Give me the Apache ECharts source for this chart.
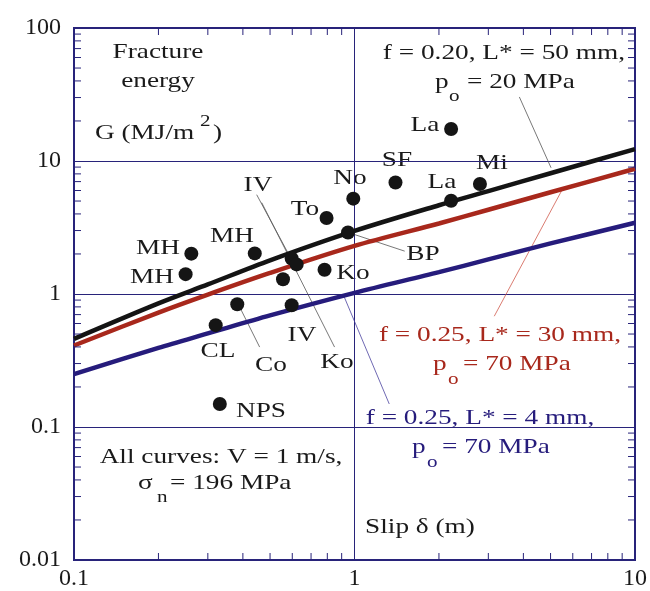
<!DOCTYPE html>
<html>
<head>
<meta charset="utf-8">
<script src="https://cdn.jsdelivr.net/npm/echarts@6/dist/echarts.min.js"></script>
<style>
  html, body { margin: 0; padding: 0; background: #fff; }
  #chart { width: 650px; height: 591px; }
</style>
</head>
<body>
<div id="chart"></div>
<script>
// slip (m) samples where the three model curves were read
const curveX = [0.1, 0.2, 0.3, 0.5, 1, 2, 3, 5, 10];
// G (MJ/m2) for each model curve
const curveBlack = [0.46, 0.85, 1.18, 1.79, 2.98, 4.65, 5.94, 8.09, 12.3];
const curveRed = [0.41, 0.725, 0.99, 1.44, 2.30, 3.39, 4.30, 5.82, 8.74];
const curveBlue = [0.25, 0.394, 0.505, 0.69, 1.02, 1.46, 1.82, 2.40, 3.43];

// earthquake estimates (slip, G)
const quakeSlip = [0.262, 0.250, 0.441, 0.597, 0.622, 0.556, 0.782, 0.795, 0.99, 0.948, 1.40, 2.21, 2.21, 2.80, 0.320, 0.382, 0.597, 0.331];
const quakeG = [2.01, 1.41, 2.02, 1.85, 1.67, 1.29, 1.52, 3.73, 5.21, 2.90, 6.90, 17.4, 5.03, 6.71, 0.583, 0.837, 0.823, 0.149];

// leader lines [x1, y1, x2, y2] in data units
const leaders = [
    [0.448, 5.58, 0.588, 1.92],
    [0.467, 4.86, 0.849, 0.399],
    [1.0, 2.80, 1.51, 2.10],
    [0.390, 0.795, 0.459, 0.399]
];
const curveLeaders = [
    [3.87, 30.3, 5.02, 8.89],
    [5.50, 6.08, 3.15, 0.681],
    [1.33, 0.149, 0.914, 0.978]
];

const yTickLabels = ['0.01', '0.1', '1', '10', '100'];
const xTickLabels = ['0.1', '1', '10'];

const navy = '#28237a';
const ink = '#1a1a1a';
const red = '#a8281c';
const blue = '#261c7c';
const serif = 'Liberation Serif';
const stretch = 1.24; // the source lettering is wide

let myChart = echarts.init(document.getElementById('chart'));

// minor ticks 2..9 inside each decade
let minorY = [], minorX = [];
[0.01, 0.1, 1, 10].forEach(d => {
    for (let k = 2; k <= 9; k++) {
        minorY.push([0.1, d * k]);
        if (d >= 0.1 && d < 10) minorX.push([d * k, 0.01]);
    }
});

function pairs(ys) {
    return curveX.map((x, i) => [x, ys[i]]);
}

function txt(x, y, s, opt) {
    opt = opt || {};
    return {
        type: 'text', x: x, y: y, silent: true, scaleX: stretch,
        style: {
            text: s, fill: opt.color || ink,
            font: (opt.size || 22) + 'px "' + serif + '"',
            textAlign: opt.align || 'center', textVerticalAlign: 'middle'
        }
    };
}

let graphics = [
    txt(158, 52, 'Fracture'),
    txt(158, 81, 'energy'),
    txt(95, 133, 'G (MJ/m', {align: 'left'}),
    txt(200, 122, '2', {align: 'left', size: 17}),
    txt(213, 133, ')', {align: 'left'}),
    txt(625, 53, 'f = 0.20, L* = 50 mm,', {align: 'right'}),
    txt(435, 82, 'p', {align: 'left'}),
    txt(449, 97, 'o', {align: 'left', size: 17}),
    txt(467, 82, '= 20 MPa', {align: 'left'}),
    txt(425, 125, 'La'),
    txt(397, 160, 'SF'),
    txt(492, 163, 'Mi'),
    txt(442, 182, 'La'),
    txt(350, 178, 'No'),
    txt(305, 209, 'To'),
    txt(258, 185, 'IV'),
    txt(158, 248, 'MH'),
    txt(152, 277, 'MH'),
    txt(232, 236, 'MH'),
    txt(353, 273, 'Ko'),
    txt(423, 254, 'BP'),
    txt(218, 351, 'CL'),
    txt(271, 365, 'Co'),
    txt(302, 335, 'IV'),
    txt(337, 362, 'Ko'),
    txt(261, 411, 'NPS'),
    txt(221, 457, 'All curves: V = 1 m/s,'),
    txt(138, 483, '\u03c3', {align: 'left'}),
    txt(157, 498, 'n', {align: 'left', size: 17}),
    txt(170, 483, '= 196 MPa', {align: 'left'}),
    txt(500, 335, 'f = 0.25, L* = 30 mm,', {color: red}),
    txt(433, 364, 'p', {align: 'left', color: red}),
    txt(448, 380, 'o', {align: 'left', size: 17, color: red}),
    txt(463, 364, '= 70 MPa', {align: 'left', color: red}),
    txt(480, 418, 'f = 0.25, L* = 4 mm,', {color: blue}),
    txt(412, 447, 'p', {align: 'left', color: blue}),
    txt(427, 463, 'o', {align: 'left', size: 17, color: blue}),
    txt(442, 447, '= 70 MPa', {align: 'left', color: blue}),
    txt(420, 527, 'Slip \u03b4 (m)')
];

let leaderSeries = leaders.map(l => ({
    type: 'line', data: [[l[0], l[1]], [l[2], l[3]]], symbol: 'none',
    lineStyle: {color: '#555', width: 0.8}, silent: true, z: 1
}));
let leaderColors = ['#555', '#d05a4c', '#4a43a0'];
curveLeaders.forEach((l, i) => {
    leaderSeries.push({
        type: 'line', data: [[l[0], l[1]], [l[2], l[3]]], symbol: 'none',
        lineStyle: {color: leaderColors[i], width: 0.8}, silent: true, z: 1
    });
});

var option = {
    animation: false,
    backgroundColor: '#fff',
    textStyle: {fontFamily: serif},
    grid: {left: 74, right: 14, top: 28, bottom: 30, show: true, borderColor: navy, borderWidth: 2},
    xAxis: {
        type: 'log', logBase: 10, min: 0.1, max: 10,
        axisLine: {lineStyle: {color: navy, width: 2}},
        axisTick: {show: false},
        splitLine: {show: true, lineStyle: {color: navy, width: 1}},
        axisLabel: {
            color: ink, fontSize: 24, fontFamily: serif, margin: 7,
            showMinLabel: true, showMaxLabel: true,
            formatter: v => xTickLabels[Math.round(Math.log10(v)) + 1]
        }
    },
    yAxis: {
        type: 'log', logBase: 10, min: 0.01, max: 100,
        axisLine: {lineStyle: {color: navy, width: 2}},
        axisTick: {show: false},
        splitLine: {show: true, lineStyle: {color: navy, width: 1}},
        axisLabel: {
            color: ink, fontSize: 24, fontFamily: serif, margin: 13,
            showMinLabel: true, showMaxLabel: true,
            formatter: v => yTickLabels[Math.round(Math.log10(v)) + 2]
        }
    },
    graphic: graphics,
    series: [
        {
            type: 'custom', data: minorY, silent: true, z: 5,
            renderItem: function (params, api) {
                let v = api.value(1);
                let l = api.coord([0.1, v]);
                let r = api.coord([10, v]);
                let st = {stroke: navy, lineWidth: 1};
                return {type: 'group', children: [
                    {type: 'line', shape: {x1: l[0], y1: l[1], x2: l[0] + 7, y2: l[1]}, style: st},
                    {type: 'line', shape: {x1: r[0] - 7, y1: r[1], x2: r[0], y2: r[1]}, style: st}
                ]};
            }
        },
        {
            type: 'custom', data: minorX, silent: true, z: 5,
            renderItem: function (params, api) {
                let v = api.value(0);
                let b = api.coord([v, 0.01]);
                let t = api.coord([v, 100]);
                let st = {stroke: navy, lineWidth: 1};
                return {type: 'group', children: [
                    {type: 'line', shape: {x1: b[0], y1: b[1], x2: b[0], y2: b[1] - 7}, style: st},
                    {type: 'line', shape: {x1: t[0], y1: t[1], x2: t[0], y2: t[1] + 7}, style: st}
                ]};
            }
        },
        ...leaderSeries,
        {
            name: 'f=0.20', type: 'line', data: pairs(curveBlack), symbol: 'none', smooth: 0.3,
            lineStyle: {color: '#141414', width: 4.5}, z: 3
        },
        {
            name: 'f=0.25 30mm', type: 'line', data: pairs(curveRed), symbol: 'none', smooth: 0.3,
            lineStyle: {color: red, width: 4.5}, z: 3
        },
        {
            name: 'f=0.25 4mm', type: 'line', data: pairs(curveBlue), symbol: 'none', smooth: 0.3,
            lineStyle: {color: blue, width: 4.5}, z: 3
        },
        {
            type: 'scatter', data: quakeSlip.map((x, i) => [x, quakeG[i]]),
            symbolSize: 14, itemStyle: {color: '#151515', opacity: 1}, z: 4
        }
    ]
};

myChart.setOption(option);
window.addEventListener('resize', function () {
    myChart.resize();
});
</script>
</body>
</html>
